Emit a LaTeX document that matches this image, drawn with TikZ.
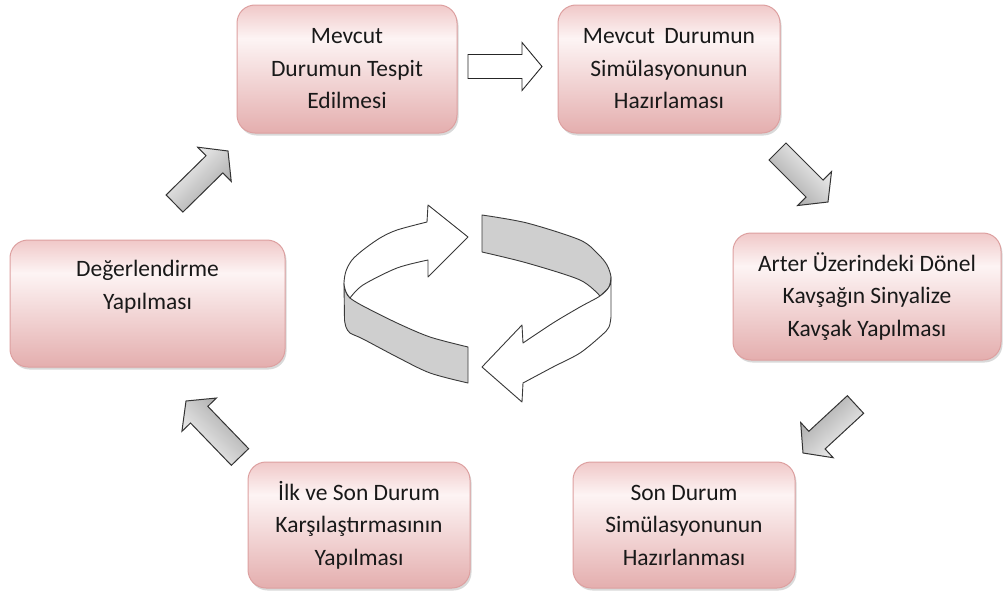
\documentclass[tikz,border=0pt]{standalone}
\usepackage{fontspec}
\setmainfont{Carlito}
\usetikzlibrary{calc,shadows}
\definecolor{pkT}{HTML}{F0C8C8}
\definecolor{pkM}{HTML}{FDF4F4}
\definecolor{pkB}{HTML}{E4AEAE}
\definecolor{pkD}{HTML}{DDA0A0}
\definecolor{ringgray}{HTML}{CFCFCF}
\definecolor{ringline}{HTML}{3A3A3A}
\definecolor{arrL}{HTML}{F8F8F8}
\definecolor{arrD}{HTML}{A2A2A2}
\pgfdeclareverticalshading{boxshade}{100bp}{color(0bp)=(pkB); color(25bp)=(pkB); color(62bp)=(pkM); color(75bp)=(pkT); color(100bp)=(pkT)}
\newcommand\blockarr[4][]{%
  \coordinate (hb) at ($(#3)!#4!(#2)$);
  \path[#1] ($(#2)!12pt!90:(#3)$) -- ($(hb)!12pt!90:(#3)$) -- ($(hb)!24pt!90:(#3)$) -- (#3) -- ($(hb)!24pt!-90:(#3)$) -- ($(hb)!12pt!-90:(#3)$) -- ($(#2)!12pt!-90:(#3)$) -- cycle;}
\tikzset{
  pinkbox/.style={draw=pkD, line width=1pt, rounded corners=18pt, shading=boxshade, inner sep=0pt,
    drop shadow={shadow xshift=1.5pt, shadow yshift=-2.5pt, opacity=.3}},
  txt/.style={font=\fontsize{23.5}{32.5}\selectfont, align=center, inner sep=0pt, text=black!90},
  garrow/.style={draw=black!80, line width=1pt, line join=miter, top color=arrL, bottom color=arrD},
  warrow/.style={draw=black!85, line width=0.9pt, fill=white},
  ring/.style={draw=ringline, line width=0.9pt, line join=round},
}
\begin{document}
\begin{tikzpicture}[x=1pt, y=-1pt]
\useasboundingbox (0,0) rectangle (1005,597);
% boxes
\node[pinkbox, minimum width=220pt, minimum height=128pt] (b1) at (347,69) {};
\node[pinkbox, minimum width=222pt, minimum height=128pt] (b2) at (669,69) {};
\node[pinkbox, minimum width=268pt, minimum height=127pt] (b3) at (867,296.5) {};
\node[pinkbox, minimum width=222pt, minimum height=126pt] (b4) at (684,525) {};
\node[pinkbox, minimum width=222pt, minimum height=126pt] (b5) at (359,525) {};
\node[pinkbox, minimum width=275pt, minimum height=127pt] (b6) at (147.5,303.5) {};
% texts
\node[txt] (t1) at (b1.center) {Mevcut\\Durumun Tespit\\Edilmesi};
\node[txt] (t2) at (b2.center) {Mevcut\, Durumun\\Simülasyonunun\\Hazırlaması};
\node[txt] (t3) at (b3.center) {Arter Üzerindeki Dönel\\Kavşağın Sinyalize\\Kavşak Yapılması};
\node[txt] (t4) at (b4.center) {Son Durum\\Simülasyonunun\\Hazırlanması};
\node[txt] (t5) at (b5.center) {İlk ve Son Durum\\Karşılaştırmasının\\Yapılması};
\node[txt] (t6) at ([yshift=17pt]b6.center) {Değerlendirme\\Yapılması};
% hollow arrow between b1 and b2
\coordinate (w1t) at (468,66.5);
\coordinate (w1h) at (542,66.5);
\blockarr[warrow]{w1t}{w1h}{20pt}
% gray diagonal arrows
\coordinate (a1t) at (174.5,203.5); \coordinate (a1h) at (228,151);
\blockarr[garrow, shading angle=44.5]{a1t}{a1h}{19pt}
\coordinate (a2t) at (777.5,151.5); \coordinate (a2h) at (828,202);
\blockarr[garrow, shading angle=-45]{a2t}{a2h}{19pt}
\coordinate (a3t) at (855.5,404.5); \coordinate (a3h) at (803,453);
\blockarr[garrow, shading angle=223]{a3t}{a3h}{19pt}
\coordinate (a4t) at (240,457); \coordinate (a4h) at (186,401);
\blockarr[garrow, shading angle=134]{a4t}{a4h}{19pt}
% central circular arrows
% gray front-left band
\draw[ring, fill=ringgray] plot[smooth] coordinates {(344,283) (346,292) (350,298) (363,306) (397,323) (430,337) (468,347)}
  -- (468,383) -- plot[smooth] coordinates {(468,383) (430,373) (397,357) (363,339) (350,333) (346,327) (344.5,320)} -- cycle;
% white back-left arrow
\draw[ring, fill=white] plot[smooth] coordinates {(350,298) (346,292) (344,283) (346,271) (352,260) (363,250) (380,238) (397,230) (427,222)}
  -- (428,205) -- (468,237) -- (428,277) -- (428,260)
  -- plot[smooth] coordinates {(428,260) (397,268) (363,285) (350,298)} -- cycle;
% gray back-right band
\draw[ring, fill=ringgray] plot[smooth] coordinates {(482,215) (527,223) (580,240) (598,254) (607,265) (611,277) (609,287) (600,296)}
  -- plot[smooth] coordinates {(600,296) (580,280) (527,263) (482,252)} -- cycle;
% white front-right arrow
\draw[ring, fill=white] plot[smooth] coordinates {(523,343) (553,323) (580,307) (600,296) (609,287) (611,277)}
  -- plot[smooth] coordinates {(611,317) (609,327) (602,335) (580,353) (553,367) (523,383)}
  -- (522,402) -- (482,367) -- (522,325) -- cycle;
\end{tikzpicture}
\end{document}
